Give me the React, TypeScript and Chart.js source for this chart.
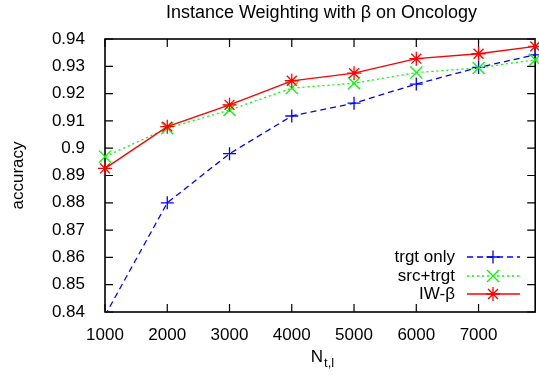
import React, { useEffect, useRef } from 'react';
import { Chart, registerables } from 'chart.js';

Chart.register(...registerables);

const titleText = 'Instance Weighting with β on Oncology';
const yAxisTitle = 'accuracy';
const xTitleMain = 'N';
const xTitleSub = 't,l';

const xValues = [1000, 2000, 3000, 4000, 5000, 6000, 7000, 7910];
const trgtOnly = [0.8387, 0.88, 0.898, 0.9118, 0.9165, 0.9235, 0.9296, 0.9342];
const srcTrgt = [0.8969, 0.9073, 0.914, 0.922, 0.9238, 0.9277, 0.9294, 0.9324];
const iwBeta = [0.8926, 0.9079, 0.9159, 0.9247, 0.9275, 0.9328, 0.9346, 0.9373];

const xTicks = [1000, 2000, 3000, 4000, 5000, 6000, 7000];
const yTicks = [0.84, 0.85, 0.86, 0.87, 0.88, 0.89, 0.9, 0.91, 0.92, 0.93, 0.94];
const seriesNames = ['trgt only', 'src+trgt', 'IW-β'];

const FONT = '"Liberation Sans", Arial, Helvetica, sans-serif';
const FS = 17;
const TFS = 18;

type Series = { name: string; values: number[]; color: string; dash: number[]; style: string; radius: number };

const series: Series[] = [
  { name: seriesNames[0], values: trgtOnly, color: '#0000ff', dash: [6, 4], style: 'cross', radius: 6.5 },
  { name: seriesNames[1], values: srcTrgt, color: '#00ff00', dash: [2, 3], style: 'crossRot', radius: 8.5 },
  { name: seriesNames[2], values: iwBeta, color: '#ff0000', dash: [], style: 'star', radius: 7 },
];

function drawMarker(ctx: CanvasRenderingContext2D, style: string, x: number, y: number, r: number) {
  ctx.beginPath();
  if (style === 'cross' || style === 'star') {
    ctx.moveTo(x - r, y); ctx.lineTo(x + r, y);
    ctx.moveTo(x, y - r); ctx.lineTo(x, y + r);
  }
  if (style === 'crossRot' || style === 'star') {
    const d = r * Math.SQRT1_2;
    ctx.moveTo(x - d, y - d); ctx.lineTo(x + d, y + d);
    ctx.moveTo(x - d, y + d); ctx.lineTo(x + d, y - d);
  }
  ctx.stroke();
}

const decor = {
  id: 'decor',
  beforeDatasetsDraw(chart: any) {
    const { ctx, chartArea: a, scales } = chart;
    const x = scales.x, y = scales.y;
    ctx.save();
    ctx.strokeStyle = '#000';
    ctx.lineWidth = 1.2;
    ctx.beginPath();
    for (const v of xTicks) {
      const px = x.getPixelForValue(v);
      ctx.moveTo(px, a.bottom); ctx.lineTo(px, a.bottom - 8);
      ctx.moveTo(px, a.top); ctx.lineTo(px, a.top + 8);
    }
    for (const v of yTicks) {
      const py = y.getPixelForValue(v);
      ctx.moveTo(a.left, py); ctx.lineTo(a.left + 8, py);
      ctx.moveTo(a.right, py); ctx.lineTo(a.right - 8, py);
    }
    ctx.stroke();
    ctx.lineWidth = 1.6;
    ctx.strokeRect(a.left, a.top, a.right - a.left, a.bottom - a.top);
    ctx.restore();
  },
  afterDraw(chart: any) {
    const { ctx, chartArea: a } = chart;
    ctx.save();
    ctx.fillStyle = '#000';
    ctx.font = `${TFS}px ${FONT}`;
    ctx.textAlign = 'center';
    ctx.textBaseline = 'middle';
    ctx.fillText(titleText, 321.5, 13);

    ctx.font = `${FS}px ${FONT}`;
    ctx.save();
    ctx.translate(18, (a.top + a.bottom) / 2);
    ctx.rotate(-Math.PI / 2);
    ctx.fillText(yAxisTitle, 0, 0);
    ctx.restore();

    // x title with subscript
    ctx.textAlign = 'left';
    ctx.textBaseline = 'alphabetic';
    ctx.font = `${FS}px ${FONT}`;
    const nW = ctx.measureText(xTitleMain).width;
    ctx.font = `${FS - 4}px ${FONT}`;
    const sW = ctx.measureText(xTitleSub).width;
    const startX = 322 - (nW + sW) / 2;
    ctx.font = `${FS}px ${FONT}`;
    ctx.fillText(xTitleMain, startX, 362);
    ctx.font = `${FS - 4}px ${FONT}`;
    ctx.fillText(xTitleSub, startX + nW + 1, 367);

    // legend
    const rows = [257, 276, 294];
    series.forEach((s, i) => {
      const ry = rows[i];
      ctx.font = `${FS}px ${FONT}`;
      ctx.textAlign = 'right';
      ctx.textBaseline = 'middle';
      ctx.fillStyle = '#000';
      ctx.fillText(s.name, 455, ry);
      ctx.strokeStyle = s.color;
      ctx.lineWidth = 1.3;
      ctx.setLineDash(s.dash);
      ctx.beginPath();
      ctx.moveTo(467, ry); ctx.lineTo(520, ry);
      ctx.stroke();
      ctx.setLineDash([]);
      drawMarker(ctx, s.style, 493, ry, s.radius);
    });
    ctx.restore();
  },
};

export default function App() {
  const ref = useRef<HTMLCanvasElement | null>(null);
  useEffect(() => {
    if (!ref.current) return;
    const chart = new Chart(ref.current, {
      type: 'line',
      data: {
        datasets: series.map((s, i) => ({
          label: s.name,
          data: xValues.map((xv, j) => ({ x: xv, y: s.values[j] })),
          borderColor: s.color,
          borderWidth: 1.3,
          borderDash: s.dash,
          pointStyle: s.style as any,
          pointRadius: s.radius,
          pointBorderWidth: 1.3,
          pointBorderColor: s.color,
          pointBackgroundColor: 'rgba(0,0,0,0)',
          tension: 0,
          fill: false,
          order: 3 - i,
          clip: i === 0 ? { left: 20, right: 20, top: 20, bottom: 0 } : false,
        })) as any,
      },
      plugins: [decor],
      options: {
        responsive: false,
        animation: false,
        devicePixelRatio: 1,
        layout: { padding: { top: 39, right: 5, left: 0, bottom: 0 } },
        plugins: { legend: { display: false }, title: { display: false }, tooltip: { enabled: false } },
        scales: {
          x: {
            type: 'linear',
            min: 1000,
            max: 7910,
            afterBuildTicks: (s: any) => { s.ticks = xTicks.map((v) => ({ value: v })); },
            afterFit: (s: any) => { s.height = 63; },
            grid: { display: false },
            border: { display: false },
            ticks: { padding: 5, color: '#000', font: { family: FONT, size: FS }, maxRotation: 0, autoSkip: false, callback: (v: any) => String(v) },
          },
          y: {
            type: 'linear',
            min: 0.84,
            max: 0.94,
            afterBuildTicks: (s: any) => { s.ticks = yTicks.map((v) => ({ value: v })); },
            afterFit: (s: any) => { s.width = 105; },
            grid: { display: false },
            border: { display: false },
            ticks: { padding: 12, color: '#000', font: { family: FONT, size: FS }, autoSkip: false, callback: (v: any) => String(Number(Number(v).toFixed(2))) },
          },
        },
      } as any,
    });
    return () => chart.destroy();
  }, []);
  return (
    <div style={{ position: 'fixed', left: 0, top: 0, width: 539, height: 375, overflow: 'hidden', background: '#fff' }}>
      <canvas ref={ref} width={545} height={375} style={{ display: 'block', width: 545, height: 375 }} />
    </div>
  );
}
